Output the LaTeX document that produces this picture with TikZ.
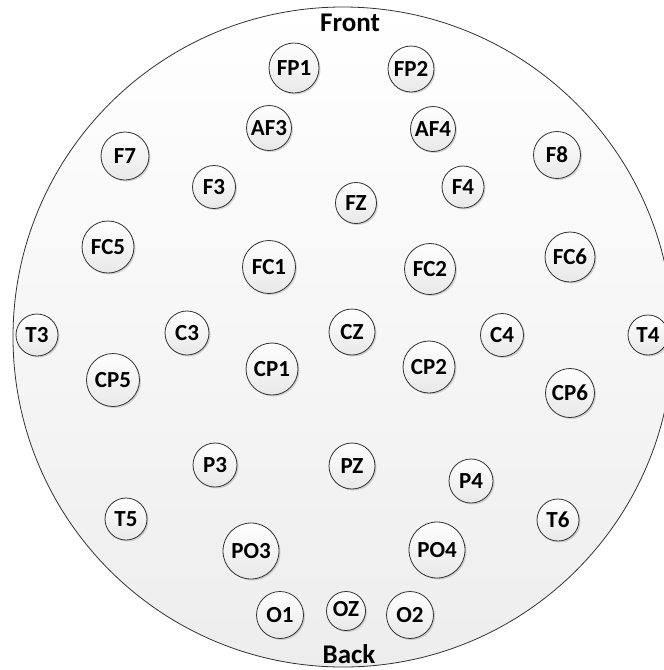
\documentclass[tikz,border=0pt]{standalone}
\usepackage{fontspec}
\setmainfont{Carlito}
\usetikzlibrary{shadows}
\definecolor{rimline}{RGB}{50,50,50}
\begin{document}
\begin{tikzpicture}[x=1pt,y=-1pt,
  head/.style={circle, draw=rimline, line width=0.8pt, inner sep=0pt,
    minimum size=660pt, top color=white, bottom color=black!7},
  elec/.style={circle, draw=rimline, line width=0.8pt, inner sep=0pt,
    minimum size=#1, top color=white, bottom color=black!9,
    font=\bfseries\fontsize{23}{23}\selectfont,
    drop shadow={shadow xshift=1.5pt, shadow yshift=-1.5pt, opacity=0.25, fill=black!60}},
  side/.style={font=\bfseries\fontsize{27}{27}\selectfont, inner sep=0pt}
]
\useasboundingbox (0,0) rectangle (664,670);
\begin{scope}
\clip (0,0) rectangle (664,670);
% scalp outline
\node[head] (scalp) at (343,337) {};

% front / back markers
\node[side] (front) at (350,23) {Front};
\node[side] (back) at (349,654) {Back};

% electrodes
\node[elec=50pt] (fp1) at (294,68) {FP1};
\node[elec=46pt] (fp2) at (411,69) {FP2};
\node[elec=45pt] (af3) at (269,128) {AF3};
\node[elec=45pt] (af4) at (433,129) {AF4};
\node[elec=48pt] (f7) at (125,156) {F7};
\node[elec=47pt] (f8) at (557,155) {F8};
\node[elec=43pt] (f3) at (214,187) {F3};
\node[elec=42pt] (f4) at (463,187) {F4};
\node[elec=41pt] (fz) at (356,203) {FZ};
\node[elec=52pt] (fc5) at (108,247) {FC5};
\node[elec=53pt] (fc1) at (269,267) {FC1};
\node[elec=51pt] (fc2) at (430,269) {FC2};
\node[elec=50pt] (fc6) at (570,257) {FC6};
\node[elec=42pt] (t3) at (37,335) {T3};
\node[elec=44pt] (c3) at (187,333) {C3};
\node[elec=46pt] (cz) at (352,332) {CZ};
\node[elec=43pt] (c4) at (502,335) {C4};
\node[elec=40pt] (t4) at (648,335) {T4};
\node[elec=53pt] (cp5) at (113,380) {CP5};
\node[elec=52pt] (cp1) at (272,369) {CP1};
\node[elec=52pt] (cp2) at (429,367) {CP2};
\node[elec=49pt] (cp6) at (570,393) {CP6};
\node[elec=44pt] (p3) at (215,465) {P3};
\node[elec=46pt] (pz) at (352,466) {PZ};
\node[elec=44pt] (p4) at (471,481) {P4};
\node[elec=42pt] (t5) at (126,519) {T5};
\node[elec=42pt] (t6) at (558,520) {T6};
\node[elec=56pt] (po3) at (251,551) {PO3};
\node[elec=56pt] (po4) at (437,550) {PO4};
\node[elec=47pt] (o1) at (280,615) {O1};
\node[elec=39pt] (oz) at (346,611) {\raisebox{4pt}{OZ}};
\node[elec=47pt] (o2) at (410,615) {O2};
\end{scope}
\end{tikzpicture}
\end{document}
